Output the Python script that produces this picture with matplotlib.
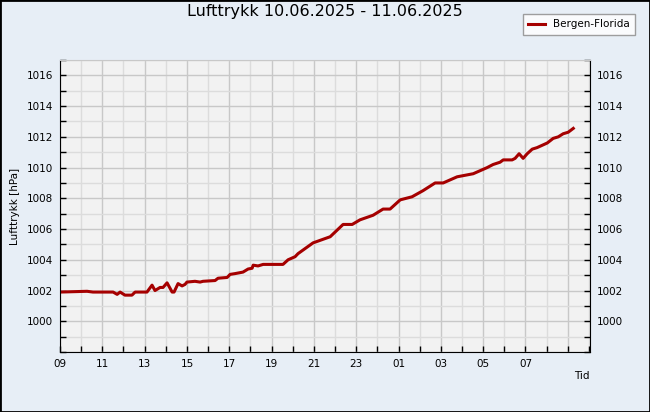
import pandas as pd
import matplotlib
matplotlib.use("Agg")
import matplotlib.pyplot as plt
import matplotlib.dates as mdates
from matplotlib.ticker import MultipleLocator, FuncFormatter
from matplotlib.patches import Rectangle

plt.rcParams.update({'font.family': 'DejaVu Sans', 'font.size': 7.5})

# ── Data: hours after 10.06.2025 09:00, pressure in hPa ──────
hours = [0.00, 1.28, 1.56, 2.51, 2.70, 2.84, 3.07, 3.40, 3.55, 4.11,
         4.35, 4.49, 4.73, 4.87, 5.06, 5.30, 5.39, 5.58, 5.77, 5.91,
         6.00, 6.38, 6.62, 6.76, 7.33, 7.47, 7.90, 8.04, 8.27, 8.65,
         8.89, 9.08, 9.13, 9.36, 9.60, 10.54, 10.78, 11.11, 11.25, 11.96,
         12.77, 13.38, 13.81, 14.18, 14.80, 15.27, 15.60, 16.08, 16.64, 17.16,
         17.73, 18.11, 18.77, 19.53, 19.86, 20.19, 20.47, 20.80, 20.95, 21.37,
         21.51, 21.70, 21.89, 22.08, 22.32, 22.55, 22.79, 23.03, 23.31, 23.55,
         23.78, 24.02, 24.26]
pressure = [1001.9, 1001.95, 1001.9, 1001.9, 1001.75, 1001.9, 1001.7, 1001.7, 1001.9, 1001.9,
            1002.35, 1002.0, 1002.2, 1002.2, 1002.5, 1001.9, 1001.9, 1002.45, 1002.3, 1002.4,
            1002.55, 1002.6, 1002.55, 1002.6, 1002.65, 1002.8, 1002.85, 1003.05, 1003.1, 1003.2,
            1003.4, 1003.45, 1003.65, 1003.6, 1003.7, 1003.7, 1004.0, 1004.2, 1004.4, 1005.1,
            1005.5, 1006.3, 1006.3, 1006.6, 1006.9, 1007.3, 1007.3, 1007.9, 1008.1, 1008.5,
            1009.0, 1009.0, 1009.4, 1009.6, 1009.8, 1010.0, 1010.2, 1010.35, 1010.5, 1010.5,
            1010.6, 1010.9, 1010.6, 1010.9, 1011.2, 1011.3, 1011.45, 1011.6, 1011.9, 1012.0,
            1012.2, 1012.3, 1012.55]

start = pd.Timestamp('2025-06-10 09:00')
times = start + pd.to_timedelta(hours, unit='h')
x_end = start + pd.Timedelta(hours=25.05)
last_label = start + pd.Timedelta(hours=22)   # 07 next morning


def hour_fmt(v, pos):
    t = mdates.num2date(v).replace(tzinfo=None)
    return t.strftime('%H') if t <= last_label else ''


fig = plt.figure(figsize=(6.5, 4.12), dpi=100, facecolor='#E7EEF6')
ax = fig.add_axes([60 / 650, 60 / 412, 530 / 650, 292 / 412])
ax.set_facecolor('#F2F2F2')

ax.plot(times, pressure, color='#A50000', lw=2.2, label='Bergen-Florida')

ax.set_xlim(start, x_end)
ax.set_ylim(998, 1017)
ax.xaxis.set_major_locator(mdates.HourLocator(byhour=range(1, 24, 2)))
ax.xaxis.set_minor_locator(mdates.HourLocator())
ax.xaxis.set_major_formatter(FuncFormatter(hour_fmt))
ax.yaxis.set_major_locator(MultipleLocator(2))
ax.yaxis.set_minor_locator(MultipleLocator(1))
ax.yaxis.set_major_formatter(lambda v, p: f'{v:.0f}' if 1000 <= v <= 1016 else '')

ax.grid(which='major', color='#C8C8C8', lw=1)
ax.grid(which='minor', color='#DCDCDC', lw=1)
ax.set_axisbelow(True)
ax.tick_params(which='both', direction='in', length=4, width=1,
               right=True, labelright=True, pad=5)

for side in ['left', 'right', 'bottom']:
    ax.spines[side].set_color('black')
ax.spines['top'].set_color('#C8C8C8')

ax.set_ylabel('Lufttrykk [hPa]')
ax.yaxis.set_label_coords(-0.075, 0.5)
ax.text(1.0, -0.065, 'Tid', transform=ax.transAxes, ha='right', va='top')
ax.set_title('Lufttrykk 10.06.2025 - 11.06.2025', fontsize=11.5, pad=32)

fig.legend(loc='upper right', bbox_to_anchor=(640 / 650, 1 - 9 / 412),
           frameon=True, fancybox=False, edgecolor='#888888',
           handlelength=1.6, borderpad=0.5, fontsize=7.5)

fig.patches.append(Rectangle((0, 0), 1, 1, transform=fig.transFigure,
                             fill=False, edgecolor='black', lw=2))

fig.savefig('out.png', dpi=100, facecolor=fig.get_facecolor())
